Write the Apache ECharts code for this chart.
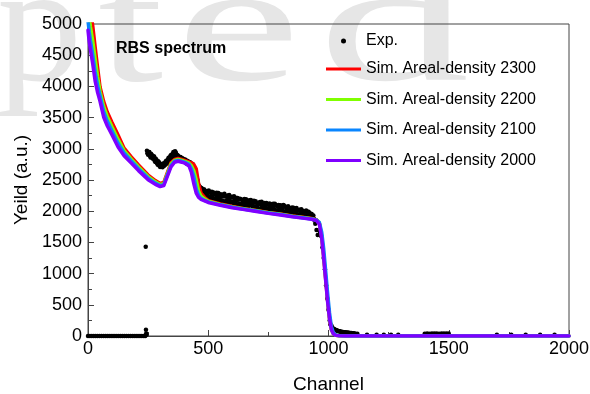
<!DOCTYPE html>
<html><head><meta charset="utf-8">
<script src="https://cdn.jsdelivr.net/npm/echarts@6/dist/echarts.min.js"></script>
<style>html,body{margin:0;padding:0;background:#fff}#c{width:590px;height:394px}</style>
</head><body><div id="c"></div>
<script>
// ---- data ----
const chartTitle = 'RBS spectrum';
const xAxisName = 'Channel';
const yAxisName = 'Yeild (a.u.)';
const seriesNames = ['Exp.', 'Sim. Areal-density 2300', 'Sim. Areal-density 2200', 'Sim. Areal-density 2100', 'Sim. Areal-density 2000'];
const seriesColors = ['#000000', '#ff0000', '#80ff00', '#0a86ff', '#7f00ff'];

const expData = [
  [0,0],[8,0],[16,0],[24,0],[32,0],[40,0],[48,0],[56,0],[64,0],[72,0],[80,0],[88,0],[96,0],[104,0],[112,0],
  [120,0],[128,0],[136,0],[144,0],[152,0],[160,0],[168,0],[176,0],[184,0],[192,0],[200,0],[208,0],[216,0],[224,0],[232,0],
  [238,0],[240,1430],[241,100],[242,40],[243,20],
  [245,2970],[250,2905],[255,2950],[260,2860],[265,2905],[270,2840],[275,2875],[280,2790],[285,2820],[290,2745],
  [295,2785],[300,2710],[305,2750],[310,2705],[315,2770],[320,2740],[325,2810],[330,2775],[335,2855],[340,2820],
  [345,2900],[350,2850],[355,2950],[360,2910],[365,2940],[370,2840],[375,2885],[380,2830],[385,2870],[390,2805],
  [395,2840],[400,2790],[405,2825],[410,2765],[415,2800],[420,2740],[425,2780],[430,2725],[435,2755],[440,2680],
  [445,2660],[450,2540],[455,2500],[460,2410],[465,2390],[470,2310],[475,2350],[480,2260],[485,2335],[490,2240],
  [495,2305],[500,2220],[505,2310],[510,2240],[515,2310],[520,2190],[525,2280],[530,2205],[535,2295],[540,2215],
  [545,2265],[550,2165],[555,2235],[560,2265],[565,2160],[570,2235],[575,2165],[580,2250],[585,2125],[590,2210],
  [595,2155],[600,2225],[605,2115],[610,2185],[615,2215],[620,2110],[625,2182],[630,2119],[635,2191],[640,2083],
  [645,2165],[650,2197],[655,2094],[660,2146],[665,2073],[670,2175],[675,2097],[680,2154],[685,2066],[690,2168],
  [695,2075],[700,2137],[705,2044],[710,2121],[715,2148],[720,2050],[725,2117],[730,2064],[735,2131],[740,2018],
  [745,2110],[750,2047],[755,2124],[760,2026],[765,2083],[770,2120],[775,2022],[780,2094],[785,2001],[790,2078],
  [795,2025],[800,2097],[805,1993],[810,2059],[815,2090],[820,1996],[825,2057],[830,1963],[835,2054],[840,1990],
  [845,2056],[850,1962],[855,2028],[860,2049],[865,1955],[870,2011],[875,1932],[880,2023],[885,1954],[890,2010],
  [895,1921],[900,1992],[905,1933],[910,1994],[915,1910],[920,1976],[925,1912],[930,1955],[935,1880],[940,1880],
  [945,1800],[950,1700],[955,1620],[960,1700],[965,1650],[970,1600],[975,1420],[980,1250],[985,1070],[990,815],
  [995,600],[1000,420],[1005,250],[1010,170],[1015,130],[1020,115],[1025,105],[1030,95],[1035,85],[1040,80],
  [1045,75],[1050,70],[1060,65],[1070,60],[1080,55],[1090,50],[1100,45],[1110,40],[1120,35],
  [1160,20],[1200,22],[1230,20],[1260,22],[1290,20],
  [1400,38],[1410,40],[1420,38],[1430,40],[1440,39],[1450,40],[1460,38],[1470,40],[1480,39],[1490,40],[1500,42],
  [1700,20],[1760,22],[1820,20],[1880,22],[1940,20],
  [247,2930],[252,2950],[257,2890],[262,2920],[267,2860],[272,2880],[277,2810],[282,2840],[287,2770],[292,2800],
  [297,2730],[302,2760],[307,2720],[312,2745],[317,2730],[322,2790],[327,2760],[332,2830],[337,2800],[342,2880],
  [347,2850],[352,2920],[357,2880],[362,2960],[367,2870],[372,2900],[377,2850],[382,2870],[387,2820],[392,2850],
  [397,2800],[402,2830],[407,2780],[412,2810],[417,2760],[422,2790],[427,2740],[432,2760],[437,2720],[442,2700],
  [447,2600],[452,2520],[457,2450],[462,2400],[467,2340],[472,2370],[477,2290],[482,2350],[487,2270],[492,2320],
  [497,2250],[502,2330],[507,2200],[512,2290],[517,2230],[522,2300],[527,2190],[532,2260],[537,2180],[542,2290],
  [547,2200],[552,2270],[557,2170],[562,2240],[567,2280],[572,2150],[577,2230],[582,2180],[587,2260],[592,2140],
  [597,2230],[602,2150],[607,2240],[612,2130],[617,2170],[622,2210],[627,2100],[632,2200],[637,2120],[642,2180],
  [647,2100],[652,2150],[657,2190],[662,2080],[667,2140],[672,2110],[677,2180],[682,2090],[687,2130],[692,2060],
  [697,2160],[702,2080],[707,2130],[712,2040],[717,2110],[722,2150],[727,2040],[732,2100],[737,2060],[742,2130],
  [747,2020],[752,2100],[757,2040],[762,2110],[767,2020],[772,2080],[777,2120],[782,2010],[787,2070],[792,2100],
  [797,1990],[802,2060],[807,2030],[812,2100],[817,1990],[822,2070],[827,2010],[832,2080],[837,1970],[842,2040],
  [847,1990],[852,2060],[857,1960],[862,2010],[867,2050],[872,1950],[877,2020],[882,1960],[887,2030],[892,1940],
  [897,2000],[902,1930],[907,2010],[912,1950],[917,1990],[922,1920],[927,1960],[932,1910],[937,1930],[942,1850],
  [1008,190],[1013,160],[1018,125],[1023,110],[1028,100],[1033,92],[1038,85],[1043,78],[1048,72],[1055,68],[1065,62],[1075,58],[1085,52],[1095,48],[1105,43]
];

const simChannel = [0,5,10,15,20,30,40,50,65,80,100,125,150,180,210,250,280,300,315,330,345,360,375,390,405,
  420,430,440,450,460,470,485,500,550,600,650,700,750,800,850,900,930,950,962,972,980,988,996,1004,1012,
  1020,1030,1045,1070,1100,1500,2000];

const sim2300 = [5500,5350,5200,5100,4960,4620,4300,3990,3760,3590,3420,3220,3010,2870,2740,2580,2490,2445,2460,2620,
  2775,2830,2845,2830,2810,2790,2775,2750,2680,2440,2290,2220,2170,2115,2075,2040,2010,1980,1955,1925,
  1900,1885,1865,1805,1580,1270,920,580,290,105,38,12,3,0,0,0,0];
const sim2200 = [5250,5100,4960,4840,4720,4430,4150,3920,3680,3520,3350,3150,2970,2835,2710,2555,2470,2428,2440,2600,
  2755,2815,2830,2815,2795,2770,2730,2650,2500,2320,2240,2195,2160,2108,2068,2036,2006,1976,1950,1920,
  1895,1880,1860,1810,1600,1300,950,600,300,110,40,12,3,0,0,0,0];
const sim2100 = [5050,4880,4740,4620,4500,4230,4010,3850,3600,3445,3285,3090,2935,2805,2680,2530,2450,2410,2425,2580,
  2730,2800,2815,2800,2780,2750,2680,2560,2360,2250,2205,2175,2150,2102,2062,2032,2002,1972,1946,1916,
  1890,1876,1858,1820,1660,1400,1050,700,380,150,55,15,4,0,0,0,0];
const sim2000 = [4900,4720,4590,4470,4350,4080,3900,3760,3510,3370,3220,3030,2890,2770,2650,2505,2430,2395,2410,2560,
  2710,2785,2800,2785,2765,2725,2620,2440,2290,2220,2190,2165,2140,2095,2055,2025,1995,1965,1940,1910,
  1885,1870,1850,1790,1560,1250,900,560,280,100,35,10,3,0,0,0,0];

const xMin = 0, xMax = 2000, xStep = 500;
const yMin = 0, yMax = 5000, yStep = 500;

// background watermark letters (page decoration behind the chart)
const watermarkLetters = ['p', 't', 'e', 'd'];

// ---- chart ----
const FONT = '"Liberation Sans", Arial, sans-serif';
const chart = echarts.init(document.getElementById('c'), null, {renderer: 'canvas'});
const simArrays = [sim2300, sim2200, sim2100, sim2000];

const lineSeries = simArrays.map((arr, k) => ({
  name: seriesNames[k + 1],
  type: 'line',
  data: simChannel.map((c, i) => [c, arr[i]]),
  showSymbol: false,
  symbol: 'none',
  color: seriesColors[k + 1],
  lineStyle: {color: seriesColors[k + 1], width: 3.5, join: 'round', cap: 'round'},
  clip: true,
  z: 3 + k,
  animation: false
}));

const axisCommon = {
  type: 'value',
  axisLine: {show: true, lineStyle: {color: '#444', width: 1}},
  axisTick: {show: true, inside: true, length: 6, lineStyle: {color: '#444'}},
  minorTick: {show: true, splitNumber: 2, length: 4, lineStyle: {color: '#444'}},
  splitLine: {show: false},
  axisLabel: {color: '#000', fontSize: 18, fontFamily: FONT, formatter: v => String(v)},
  nameLocation: 'middle',
  nameTextStyle: {color: '#000', fontSize: 19, fontFamily: FONT}
};

const wmX = [-3, 98, 176, 318];
const wmScale = [1.0, 1.38, 1.65, 1.78];
const watermark = watermarkLetters.map((ch, i) => ({
  type: 'text', x: wmX[i], y: 35, scaleX: wmScale[i], z: -100, silent: true,
  style: {text: ch, font: '170px "Liberation Serif", "Times New Roman", serif', fill: '#e6e6e6', verticalAlign: 'middle'}
}));

chart.setOption({
  animation: false,
  backgroundColor: '#fff',
  title: {
    text: chartTitle, left: 116, top: 41, padding: 0,
    textStyle: {fontSize: 16, fontWeight: 'bold', color: '#000', fontFamily: FONT}
  },
  graphic: watermark,
  legend: [{
    data: [{name: seriesNames[0], icon: 'circle'}],
    left: 341, top: 33, padding: 0,
    itemWidth: 35, itemHeight: 5,
    textStyle: {fontSize: 16, color: '#000', fontFamily: FONT},
    selectedMode: false
  }, {
    data: seriesNames.slice(1).map(n => ({name: n, icon: 'rect'})),
    orient: 'vertical', left: 326, top: 61, padding: 0,
    itemWidth: 35, itemHeight: 3, itemGap: 14.5,
    textStyle: {fontSize: 16, color: '#000', fontFamily: FONT},
    selectedMode: false
  }],
  grid: {left: 88, right: 21, top: 24, bottom: 58, show: true, borderColor: '#444', borderWidth: 1,
         backgroundColor: 'transparent', containLabel: false, outerBoundsMode: 'none'},
  xAxis: Object.assign({}, axisCommon, {
    min: xMin, max: xMax, interval: xStep, name: xAxisName, nameGap: 39,
    axisLabel: Object.assign({}, axisCommon.axisLabel, {margin: 4})
  }),
  yAxis: Object.assign({}, axisCommon, {
    min: yMin, max: yMax, interval: yStep, name: yAxisName, nameGap: 45,
    axisLabel: Object.assign({}, axisCommon.axisLabel, {margin: 6})
  }),
  series: [{
    name: seriesNames[0],
    type: 'scatter',
    data: expData,
    symbol: 'circle',
    symbolSize: 4.5,
    color: '#000',
    itemStyle: {color: '#000', opacity: 1},
    z: 2,
    animation: false
  }].concat(lineSeries)
});
</script></body></html>
